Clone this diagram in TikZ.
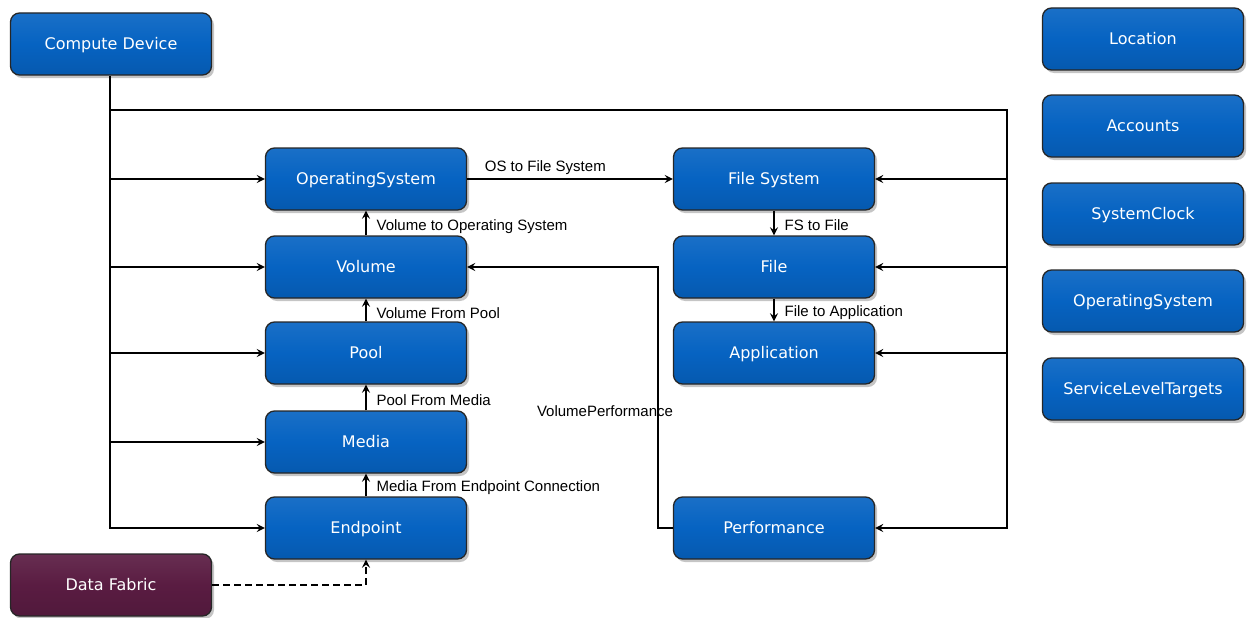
\documentclass[tikz,border=0pt]{standalone}
\usepackage{fontspec}
\setmainfont{Liberation Sans}
\newfontfamily\boxfont{DejaVu Sans}
\usetikzlibrary{shadows}
\definecolor{boxblue}{RGB}{6,99,194}
\definecolor{fabric}{RGB}{90,28,66}

\begin{document}
\begin{tikzpicture}[>=stealth, x=1pt, y=-1pt,
    caja/.style={draw=black!85, line width=1.3pt, rounded corners=9pt,
      minimum width=201pt, minimum height=62pt,
      top color=#1!92!white, bottom color=#1!90!black, middle color=#1,
      text=white, font=\boxfont\fontsize{16}{19}\selectfont,
      text height=11.5pt, text depth=0pt,
      drop shadow={shadow xshift=2.5pt, shadow yshift=-3pt, fill=black!45}},
    caja/.default=boxblue,
    flecha/.style={line width=2.5pt, ->},
    etiq/.style={font=\fontsize{15}{18}\selectfont, text=black}]
  \useasboundingbox (0,0) rectangle (1247,618);
  \def\trunkx{110}
  \def\trunky{110}
  \def\rtrunkx{1007}

  % Cajas
  \node[caja] (computedevice) at (111,44) {Compute Device};
  \node[caja=fabric] (datafabric) at (111,585) {Data Fabric};

  \node[caja] (os) at (366,179) {OperatingSystem};
  \node[caja] (volume) at (366,267) {Volume};
  \node[caja] (pool) at (366,353) {Pool};
  \node[caja] (media) at (366,442) {Media};
  \node[caja] (endpoint) at (366,528) {Endpoint};

  \node[caja] (filesystem) at (774,179) {File System};
  \node[caja] (file) at (774,267) {File};
  \node[caja] (application) at (774,353) {Application};
  \node[caja] (performance) at (774,528) {Performance};

  \node[caja] (location) at (1143,39) {Location};
  \node[caja] (accounts) at (1143,126) {Accounts};
  \node[caja] (sysclock) at (1143,214) {SystemClock};
  \node[caja] (osright) at (1143,301) {OperatingSystem};
  \node[caja] (slt) at (1143,389) {ServiceLevelTargets};

  % Troncos desde Compute Device
  \coordinate (trunkl) at (\trunkx,\trunky);
  \coordinate (trunkr) at (\rtrunkx,\trunky);
  \draw[flecha] (computedevice.south -| trunkl) |- (endpoint.west);
  \foreach \n in {os,volume,pool,media}
    \draw[flecha] (trunkl |- \n.west) -- (\n.west);
  \draw[flecha] (trunkl) -- (trunkr) |- (performance.east);
  \foreach \n in {filesystem,file,application}
    \draw[flecha] (trunkr |- \n.east) -- (\n.east);

  % Relaciones
  \draw[flecha] (os.east) -- node[etiq, above, pos=0.38] {OS to File System} (filesystem.west);
  \draw[flecha] (volume.north) -- node[etiq, right=6pt, yshift=-4pt] {Volume to Operating System} (os.south);
  \draw[flecha] (pool.north) -- node[etiq, right=6pt, yshift=-3pt] {Volume From Pool} (volume.south);
  \draw[flecha] (media.north) -- node[etiq, right=6pt, yshift=-3pt] {Pool From Media} (pool.south);
  \draw[flecha] (endpoint.north) -- node[etiq, right=6pt, yshift=-3pt] {Media From Endpoint Connection} (media.south);
  \draw[flecha] (filesystem.south) -- node[etiq, right=6pt, yshift=-2pt] {FS to File} (file.north);
  \draw[flecha] (file.south) -- node[etiq, right=6pt, yshift=-3pt] {File to Application} (application.north);

  \coordinate (perfbend) at (658,528);
  \draw[flecha] (performance.west) -- (perfbend) |- node[etiq, pos=0.224, xshift=-53pt] {VolumePerformance} (volume.east);

  % Data Fabric
  \draw[flecha, dash pattern=on 7pt off 4pt] (datafabric.east) -| (endpoint.south);
\end{tikzpicture}
\end{document}
